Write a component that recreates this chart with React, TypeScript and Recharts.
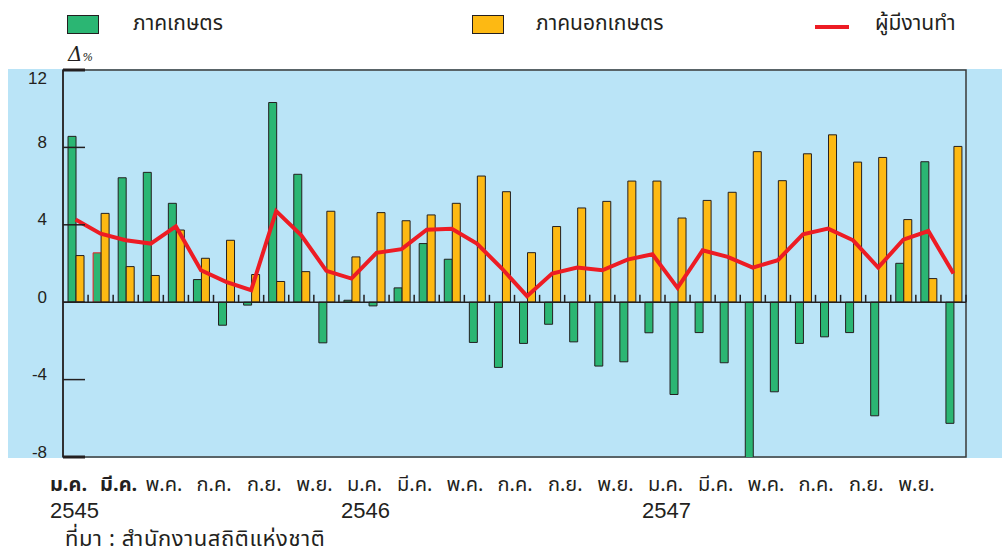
import React from "react";
import {
  ComposedChart,
  Bar,
  Line,
  XAxis,
  YAxis,
  ReferenceLine,
  ReferenceArea,
  Cell,
} from "recharts";

// months Jan 2545 - Dec 2547
const MONTHS = [
  "ม.ค.", "ก.พ.", "มี.ค.", "เม.ย.", "พ.ค.", "มิ.ย.", "ก.ค.", "ส.ค.", "ก.ย.", "ต.ค.", "พ.ย.", "ธ.ค.",
  "ม.ค.", "ก.พ.", "มี.ค.", "เม.ย.", "พ.ค.", "มิ.ย.", "ก.ค.", "ส.ค.", "ก.ย.", "ต.ค.", "พ.ย.", "ธ.ค.",
  "ม.ค.", "ก.พ.", "มี.ค.", "เม.ย.", "พ.ค.", "มิ.ย.", "ก.ค.", "ส.ค.", "ก.ย.", "ต.ค.", "พ.ย.", "ธ.ค.",
];
const YEARS = ["2545", "2546", "2547"];

const agri = [
  8.57, 2.55, 6.43, 6.71, 5.11, 1.17, -1.19, -0.15, 10.32, 6.61, -2.1, 0.1,
  -0.19, 0.74, 3.03, 2.22, -2.08, -3.37, -2.13, -1.14, -2.05, -3.3, -3.08, -1.58,
  -4.77, -1.57, -3.13, -8.2, -4.63, -2.13, -1.79, -1.57, -5.87, 2.01, 7.26, -6.26,
];
const nonAgri = [
  2.41, 4.59, 1.84, 1.38, 3.73, 2.27, 3.2, 1.43, 1.07, 1.58, 4.7, 2.34,
  4.63, 4.21, 4.51, 5.11, 6.52, 5.71, 2.56, 3.91, 4.87, 5.21, 6.26, 6.26,
  4.35, 5.26, 5.68, 7.78, 6.28, 7.67, 8.65, 7.24, 7.48, 4.27, 1.22, 8.05,
];
const employed = [
  4.27, 3.54, 3.2, 3.03, 3.92, 1.65, 1.05, 0.62, 4.71, 3.46, 1.62, 1.22,
  2.55, 2.74, 3.75, 3.8, 3.03, 1.74, 0.31, 1.48, 1.79, 1.65, 2.2, 2.48,
  0.74, 2.68, 2.34, 1.79, 2.17, 3.51, 3.8, 3.2, 1.79, 3.23, 3.68, 1.48,
];

const Y_TICKS = [-8, -4, 0, 4, 8, 12];
const SERIES = ["ภาคเกษตร", "ภาคนอกเกษตร", "ผู้มีงานทำ"];

const GREEN = "#2BB673";
const ORANGE = "#FDB913";
const RED = "#ED1C24";
const INK = "#231F20";
const THAI = "'Noto Sans Thai', 'Loma', 'Garuda', 'Tlwg Typist', 'Liberation Sans Narrow', sans-serif";

const data = MONTHS.map((m, i) => ({
  idx: i + 0.5,
  month: m,
  agri: agri[i],
  nonAgri: nonAgri[i],
  employed: employed[i],
}));

const boundaries = MONTHS.map((_, i) => i + 1);

const YTick = (props: any) => {
  const { x, y, payload } = props;
  const edge = payload.value === 12 || payload.value === -8;
  return (
    <g>
      <line x1={x + 16} x2={x + 38} y1={y} y2={y} stroke={INK} strokeWidth={edge ? 3 : 1.5} />
      <text
        x={x}
        y={y + (payload.value === 12 ? 8 : -5)}
        textAnchor="end"
        dominantBaseline="central"
        fontFamily="'Liberation Sans', Arial, sans-serif"
        fontSize={17}
        fill={INK}
      >
        {payload.value}
      </text>
    </g>
  );
};

const XTick = (props: any) => {
  const { x, y, payload, index } = props;
  const i = payload.index ?? index;
  const year = i % 12 === 0 ? YEARS[Math.floor(i / 12)] : null;
  return (
    <g>
      <text
        x={x - (i < 3 ? 7 : 12)}
        y={y + 28}
        textAnchor="middle"
        dominantBaseline="central"
        fontFamily={THAI}
        fontSize={20}
        fontWeight={i < 3 ? 700 : 400}
        fill={INK}
      >
        {payload.value}
      </text>
      {year && (
        <text
          x={x - (i === 0 ? 1 : 11)}
          y={y + 53}
          textAnchor="middle"
          dominantBaseline="central"
          fontFamily="'Liberation Sans Narrow', 'Liberation Sans', sans-serif"
          fontSize={22}
          fill={INK}
        >
          {year}
        </text>
      )}
    </g>
  );
};

const legendItem = (left: number, textLeft: number, swatch: React.ReactNode, label: string) => (
  <div style={{ position: "absolute", left, top: 0, height: 50 }}>
    {swatch}
    <span
      style={{
        position: "absolute",
        left: textLeft,
        top: 10,
        whiteSpace: "nowrap",
        fontFamily: THAI,
        fontSize: 21,
        lineHeight: "28px",
        color: INK,
      }}
    >
      {label}
    </span>
  </div>
);

export default function App() {
  return (
    <div
      style={{
        position: "absolute",
        left: 0,
        top: 0,
        width: 1002,
        height: 556,
        background: "#fff",
        overflow: "hidden",
      }}
    >
      {/* light blue panel */}
      <div
        style={{
          position: "absolute",
          left: 8,
          top: 69,
          width: 994,
          height: 389,
          background: "#BAE4F7",
        }}
      />

      {legendItem(
        67,
        66,
        <div style={{ position: "absolute", top: 15, width: 30, height: 17, background: GREEN, border: `1px solid ${INK}` }} />,
        SERIES[0]
      )}
      {legendItem(
        472,
        64,
        <div style={{ position: "absolute", top: 15, width: 30, height: 17, background: ORANGE, border: `1px solid ${INK}` }} />,
        SERIES[1]
      )}
      {legendItem(
        815,
        60,
        <div style={{ position: "absolute", top: 25, width: 34, height: 4, background: RED }} />,
        SERIES[2]
      )}

      <div
        style={{
          position: "absolute",
          left: 68,
          top: 42,
          fontFamily: "'DejaVu Serif', serif",
          fontStyle: "italic",
          fontSize: 20,
          color: INK,
        }}
      >
        Δ<span style={{ fontSize: 11 }}>%</span>
      </div>

      <div style={{ position: "absolute", left: 0, top: 0 }}>
        <ComposedChart
          width={1002}
          height={556}
          data={data}
          margin={{ top: 70, right: 36, bottom: 0, left: 0 }}
          barCategoryGap="20%"
          barGap={0}
        >
          <XAxis
            dataKey="month"
            height={99}
            interval={1}
            axisLine={false}
            tickLine={false}
            tickSize={0}
            tickMargin={0}
            tick={<XTick />}
          />
          <XAxis xAxisId="num" dataKey="idx" type="number" domain={[0, 36]} hide allowDataOverflow />
          <YAxis
            width={63}
            domain={[-8, 12]}
            ticks={Y_TICKS}
            allowDataOverflow
            interval={0}
            axisLine={{ stroke: INK, strokeWidth: 1.5 }}
            tickLine={false}
            tickSize={0}
            tickMargin={16}
            tick={<YTick />}
          />
          <ReferenceArea
            xAxisId="num"
            x1={0}
            x2={36}
            y1={-8}
            y2={12}
            fill="none"
            stroke="#3A3A3A"
            strokeWidth={1.5}
            fillOpacity={0}
          />
          <Bar dataKey="agri" name={SERIES[0]} fill={GREEN} stroke={INK} strokeWidth={1} isAnimationActive={false}>
            {data.map((d, i) => (
              <Cell key={`a-${i}`} stroke={i === 1 ? RED : INK} />
            ))}
          </Bar>
          <Bar dataKey="nonAgri" name={SERIES[1]} fill={ORANGE} stroke={INK} strokeWidth={1} isAnimationActive={false} />
          <ReferenceLine y={0} stroke={INK} strokeWidth={1.5} />
          {boundaries.map((b) => (
            <ReferenceLine
              key={`t-${b}`}
              xAxisId="num"
              segment={[
                { x: b, y: 0 },
                { x: b, y: 0.38 },
              ]}
              stroke={INK}
              strokeWidth={1.5}
            />
          ))}
          <Line
            dataKey="employed"
            name={SERIES[2]}
            stroke={RED}
            strokeWidth={4}
            dot={false}
            activeDot={false}
            isAnimationActive={false}
          />
        </ComposedChart>
      </div>

      <div
        style={{
          position: "absolute",
          left: 65,
          top: 528,
          lineHeight: "24px",
          fontFamily: THAI,
          fontSize: 22,
          letterSpacing: "0.6px",
          color: INK,
          whiteSpace: "nowrap",
        }}
      >
        ที่มา : สำนักงานสถิติแห่งชาติ
      </div>
    </div>
  );
}
